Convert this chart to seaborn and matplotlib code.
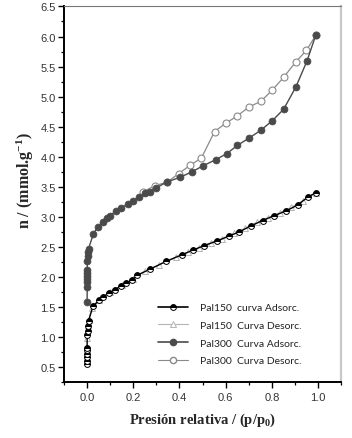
import numpy as np
import pandas as pd
import matplotlib
matplotlib.use("Agg")
import matplotlib.pyplot as plt
from matplotlib.lines import Line2D
from matplotlib.ticker import MultipleLocator
import seaborn as sns

# ---------------- data ----------------
p300_ads_x = [0.0, 0.0, 0.0, 0.0, 0.0, 0.0, 0.0, 0.001, 0.002, 0.004, 0.006,
              0.027, 0.046, 0.068, 0.087, 0.097, 0.124, 0.148, 0.175, 0.200, 0.224,
              0.250, 0.272, 0.298, 0.345, 0.403, 0.454, 0.502, 0.556, 0.604, 0.651,
              0.701, 0.752, 0.802, 0.851, 0.904, 0.953, 0.990]
p300_ads_y = [1.58, 1.83, 1.91, 1.97, 2.01, 2.07, 2.12, 2.27, 2.35, 2.41, 2.47,
              2.72, 2.83, 2.92, 2.98, 3.02, 3.09, 3.15, 3.21, 3.27, 3.33,
              3.39, 3.42, 3.48, 3.58, 3.66, 3.75, 3.85, 3.95, 4.05, 4.19,
              4.31, 4.44, 4.60, 4.79, 5.16, 5.60, 6.02]

p300_des_x = [0.990, 0.950, 0.904, 0.851, 0.802, 0.752, 0.701, 0.651, 0.601, 0.552,
              0.495, 0.447, 0.396, 0.348, 0.294, 0.243]
p300_des_y = [6.02, 5.77, 5.58, 5.32, 5.11, 4.92, 4.83, 4.68, 4.56, 4.42,
              3.98, 3.86, 3.72, 3.58, 3.52, 3.42]

p150_ads_x = [0.0, 0.0, 0.0, 0.0, 0.0, 0.0, 0.0, 0.002, 0.004, 0.006,
              0.025, 0.050, 0.068, 0.094, 0.119, 0.148, 0.170, 0.196, 0.217, 0.272,
              0.342, 0.410, 0.460, 0.505, 0.563, 0.614, 0.658, 0.709, 0.760, 0.810,
              0.862, 0.913, 0.956, 0.990]
p150_ads_y = [0.55, 0.61, 0.67, 0.72, 0.78, 0.82, 1.03, 1.11, 1.19, 1.27,
              1.51, 1.61, 1.67, 1.73, 1.79, 1.85, 1.90, 1.95, 2.03, 2.13,
              2.26, 2.37, 2.45, 2.52, 2.60, 2.68, 2.75, 2.85, 2.94, 3.02,
              3.10, 3.20, 3.33, 3.40]

p150_des_x = [0.990, 0.935, 0.885, 0.835, 0.785, 0.735, 0.685, 0.635, 0.585, 0.535,
              0.485, 0.435, 0.385, 0.310, 0.250, 0.200, 0.150, 0.100, 0.050, 0.020,
              0.006, 0.003, 0.001, 0.0]
p150_des_y = [3.40, 3.27, 3.16, 3.07, 2.99, 2.91, 2.81, 2.73, 2.64, 2.57,
              2.49, 2.41, 2.33, 2.20, 2.10, 1.97, 1.86, 1.75, 1.62, 1.48,
              1.28, 1.20, 1.10, 0.98]

labels = ["Pal150  curva Adsorc.", "Pal150  Curva Desorc.",
          "Pal300  Curva Adsorc.", "Pal300  Curva Desorc."]

# ---------------- style ----------------
sns.set_theme(style="white")
plt.rcParams["font.family"] = ["Liberation Sans", "DejaVu Sans"]
plt.rcParams["mathtext.fontset"] = "custom"
plt.rcParams["mathtext.rm"] = "Liberation Serif:bold"
plt.rcParams["mathtext.it"] = "Liberation Serif:bold"
plt.rcParams["mathtext.bf"] = "Liberation Serif:bold"

fig = plt.figure(figsize=(3.52, 4.39), dpi=100)
ax = fig.add_axes([0.182, 0.127, 0.787, 0.856])

c300a = "#4a4a4a"
c300d = "#8a8a8a"
c150a = "#000000"
c150d = "#b4b4b4"

sns.lineplot(x=p150_des_x, y=p150_des_y, sort=False, estimator=None, ax=ax,
             color=c150d, lw=0.8, marker="^", markersize=4.2,
             markerfacecolor="white", markeredgecolor=c150d, markeredgewidth=0.7,
             legend=False)
sns.lineplot(x=p150_ads_x, y=p150_ads_y, sort=False, estimator=None, ax=ax,
             color=c150a, lw=1.0, marker="o", markersize=4.2, fillstyle="top",
             markerfacecolor="black", markerfacecoloralt="white",
             markeredgecolor="black", markeredgewidth=0.7, legend=False)
sns.lineplot(x=p300_des_x, y=p300_des_y, sort=False, estimator=None, ax=ax,
             color=c300d, lw=0.9, marker="o", markersize=5,
             markerfacecolor="white", markeredgecolor=c300d, markeredgewidth=0.8,
             legend=False)
sns.lineplot(x=p300_ads_x, y=p300_ads_y, sort=False, estimator=None, ax=ax,
             color=c300a, lw=1.0, marker="o", markersize=5,
             markerfacecolor=c300a, markeredgecolor=c300a, markeredgewidth=0.5,
             legend=False)

ax.set_xlim(-0.1, 1.1)
ax.set_ylim(0.25, 6.5)
ax.xaxis.set_major_locator(MultipleLocator(0.2))
ax.xaxis.set_minor_locator(MultipleLocator(0.1))
ax.yaxis.set_major_locator(MultipleLocator(0.5))
ax.yaxis.set_minor_locator(MultipleLocator(0.25))
ax.tick_params(axis="both", which="major", direction="out", length=4, width=1.0,
               color="black", labelsize=8, labelcolor="#333333", pad=2,
               bottom=True, left=True, top=False, right=False)
ax.tick_params(axis="both", which="minor", direction="out", length=2.2, width=0.9,
               color="black", bottom=True, left=True, top=False, right=False)
ax.tick_params(axis="x", which="major", pad=3)
ax.set_xticks([0.0, 0.2, 0.4, 0.6, 0.8, 1.0])
ax.set_xticklabels(["0.0", "0.2", "0.4", "0.6", "0.8", "1.0"])
ax.set_yticks(np.arange(0.5, 6.51, 0.5))
ax.set_yticklabels([f"{v:.1f}" for v in np.arange(0.5, 6.51, 0.5)])

for s in ["left", "bottom"]:
    ax.spines[s].set_color("black")
    ax.spines[s].set_linewidth(1.4)
ax.spines["top"].set_color("#777777")
ax.spines["top"].set_linewidth(0.8)
ax.spines["right"].set_color("#c8c8c8")
ax.spines["right"].set_linewidth(1.6)

ax.set_xlabel(r"Presión relativa / (p/p$_{0}$)", family="Liberation Serif",
              fontweight="bold", fontsize=10.5, labelpad=6)
ax.set_ylabel(r"n / (mmol.g$^{-1}$)", family="Liberation Serif",
              fontweight="bold", fontsize=11.5)
ax.yaxis.set_label_coords(-0.10, 0.54)

handles = [
    Line2D([], [], color=c150a, lw=1.2, marker="o", markersize=4.2, fillstyle="top",
           markerfacecolor="black", markerfacecoloralt="white", markeredgecolor="black",
           markeredgewidth=0.7),
    Line2D([], [], color=c150d, lw=0.8, marker="^", markersize=4.2,
           markerfacecolor="white", markeredgecolor=c150d, markeredgewidth=0.7),
    Line2D([], [], color=c300a, lw=1.2, marker="o", markersize=4.5,
           markerfacecolor=c300a, markeredgecolor=c300a),
    Line2D([], [], color=c300d, lw=0.8, marker="o", markersize=4.5,
           markerfacecolor="white", markeredgecolor=c300d),
]
leg = ax.legend(handles, labels, loc="lower right", bbox_to_anchor=(0.89, 0.02),
                frameon=False, prop={"family": ["Lato", "DejaVu Sans"], "size": 7.5},
                handlelength=2.9, handletextpad=1.1, labelspacing=0.8,
                labelcolor="#222222")

fig.savefig("out.png", dpi=100, facecolor="white")
